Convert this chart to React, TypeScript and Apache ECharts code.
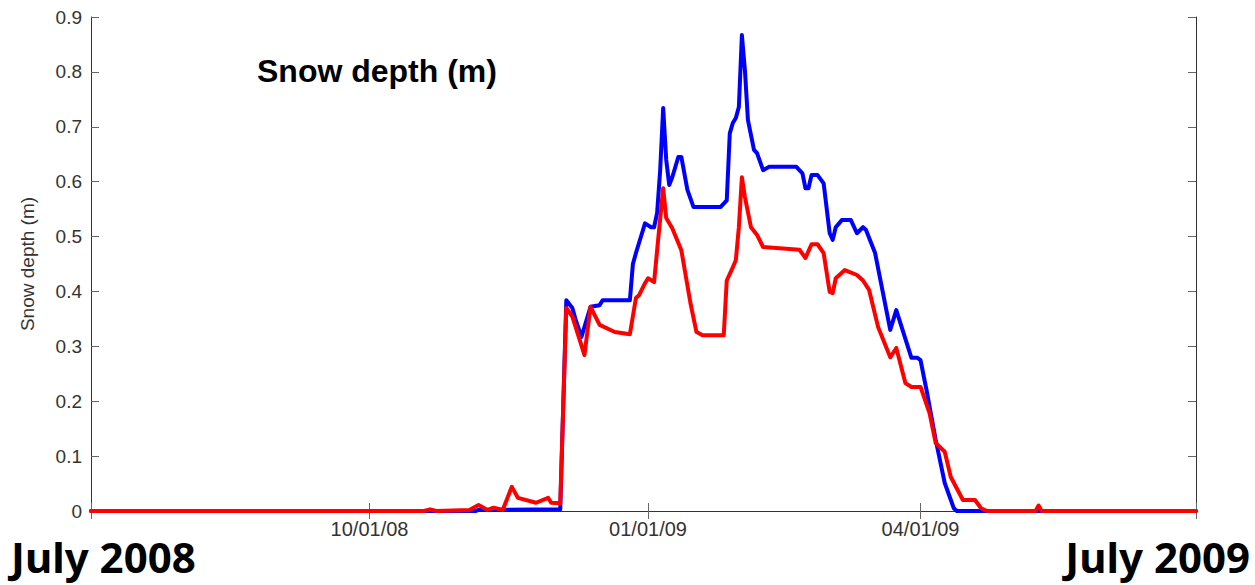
import React, { useEffect, useRef } from "react";
import * as echarts from "echarts";

// Snow depth (m), two series: blue and red
const blueSeries: [string, number][] = [
  ["2008-07-01", 0], ["2008-11-05", 0], ["2008-11-06", 0.002], ["2008-12-03", 0.003],
  ["2008-12-05", 0.384], ["2008-12-07", 0.37], ["2008-12-08", 0.35], ["2008-12-10", 0.317],
  ["2008-12-13", 0.372], ["2008-12-16", 0.375], ["2008-12-17", 0.384], ["2008-12-26", 0.384],
  ["2008-12-27", 0.45], ["2008-12-28", 0.47], ["2008-12-30", 0.506], ["2008-12-31", 0.524],
  ["2009-01-02", 0.517], ["2009-01-03", 0.517], ["2009-01-04", 0.543], ["2009-01-05", 0.62],
  ["2009-01-06", 0.734], ["2009-01-07", 0.64], ["2009-01-08", 0.594], ["2009-01-09", 0.608],
  ["2009-01-11", 0.645], ["2009-01-12", 0.645], ["2009-01-14", 0.585], ["2009-01-16", 0.554],
  ["2009-01-25", 0.554], ["2009-01-27", 0.566], ["2009-01-28", 0.688], ["2009-01-29", 0.707],
  ["2009-01-30", 0.716], ["2009-01-31", 0.736], ["2009-02-01", 0.867], ["2009-02-02", 0.803],
  ["2009-02-03", 0.712], ["2009-02-05", 0.658], ["2009-02-06", 0.652], ["2009-02-08", 0.621],
  ["2009-02-10", 0.627], ["2009-02-19", 0.627], ["2009-02-21", 0.615], ["2009-02-22", 0.588],
  ["2009-02-23", 0.588], ["2009-02-24", 0.612], ["2009-02-26", 0.612], ["2009-02-28", 0.597],
  ["2009-03-02", 0.506], ["2009-03-03", 0.494], ["2009-03-04", 0.517], ["2009-03-06", 0.53],
  ["2009-03-09", 0.53], ["2009-03-11", 0.506], ["2009-03-13", 0.517], ["2009-03-14", 0.512],
  ["2009-03-17", 0.47], ["2009-03-22", 0.33], ["2009-03-24", 0.366], ["2009-03-29", 0.279],
  ["2009-03-31", 0.279], ["2009-04-01", 0.275], ["2009-04-03", 0.22], ["2009-04-06", 0.13],
  ["2009-04-09", 0.051], ["2009-04-12", 0.005], ["2009-04-13", 0], ["2009-07-01", 0],
];

const redSeries: [string, number][] = [
  ["2008-07-01", 0], ["2008-10-19", 0], ["2008-10-21", 0.003], ["2008-10-23", 0],
  ["2008-11-03", 0.002], ["2008-11-06", 0.011], ["2008-11-09", 0.002], ["2008-11-11", 0.006],
  ["2008-11-14", 0.002], ["2008-11-17", 0.044], ["2008-11-19", 0.024], ["2008-11-25", 0.015],
  ["2008-11-29", 0.024], ["2008-11-30", 0.015], ["2008-12-03", 0.014], ["2008-12-05", 0.37],
  ["2008-12-07", 0.354], ["2008-12-11", 0.284], ["2008-12-13", 0.372], ["2008-12-16", 0.339],
  ["2008-12-21", 0.326], ["2008-12-26", 0.322], ["2008-12-28", 0.388], ["2008-12-29", 0.393],
  ["2008-12-31", 0.415], ["2009-01-01", 0.424], ["2009-01-03", 0.417], ["2009-01-04", 0.475],
  ["2009-01-06", 0.588], ["2009-01-07", 0.534], ["2009-01-09", 0.515], ["2009-01-12", 0.475],
  ["2009-01-15", 0.379], ["2009-01-17", 0.326], ["2009-01-19", 0.32], ["2009-01-26", 0.32],
  ["2009-01-27", 0.42], ["2009-01-29", 0.444], ["2009-01-30", 0.457], ["2009-01-31", 0.517],
  ["2009-02-01", 0.608], ["2009-02-02", 0.572], ["2009-02-04", 0.517], ["2009-02-06", 0.503],
  ["2009-02-08", 0.481], ["2009-02-20", 0.476], ["2009-02-22", 0.461], ["2009-02-24", 0.486],
  ["2009-02-26", 0.486], ["2009-02-28", 0.47], ["2009-03-02", 0.399], ["2009-03-03", 0.397],
  ["2009-03-04", 0.424], ["2009-03-07", 0.439], ["2009-03-11", 0.43], ["2009-03-13", 0.42],
  ["2009-03-15", 0.403], ["2009-03-18", 0.335], ["2009-03-22", 0.28], ["2009-03-24", 0.297],
  ["2009-03-27", 0.233], ["2009-03-29", 0.226], ["2009-04-01", 0.226], ["2009-04-04", 0.178],
  ["2009-04-06", 0.124], ["2009-04-09", 0.108], ["2009-04-11", 0.062], ["2009-04-15", 0.02],
  ["2009-04-19", 0.02], ["2009-04-21", 0.005], ["2009-04-23", 0], ["2009-05-09", 0],
  ["2009-05-10", 0.01], ["2009-05-11", 0], ["2009-07-01", 0],
];

const xRange: [string, string] = ["2008-07-01", "2009-07-01"];
const xTickDates = ["2008-07-01", "2008-10-01", "2009-01-01", "2009-04-01", "2009-07-01"];
const xLabelDates = ["2008-10-01", "2009-01-01", "2009-04-01"];
const yMin = 0;
const yMax = 0.9;
const yStep = 0.1;

const titleText = "Snow depth (m)";
const yAxisName = "Snow depth (m)";
const leftCaption = "July 2008";
const rightCaption = "July 2009";

function toTs(s: string): number {
  const [y, m, d] = s.split("-").map(Number);
  return new Date(y, m - 1, d).getTime();
}

function fmtDate(v: number): string {
  const dt = new Date(v);
  const mm = String(dt.getMonth() + 1).padStart(2, "0");
  const dd = String(dt.getDate()).padStart(2, "0");
  const yy = String(dt.getFullYear() % 100).padStart(2, "0");
  return `${mm}/${dd}/${yy}`;
}

export default function App() {
  const ref = useRef<HTMLDivElement>(null);
  useEffect(() => {
    document.body.style.margin = "0";
    if (!ref.current) return;
    const chart = echarts.init(ref.current, undefined, { renderer: "svg" });
    const ticks = xTickDates.map(toTs);
    const labels = xLabelDates.map(toTs);
    const frame = { show: true, lineStyle: { color: "#333", width: 1 } };
    const font = "Liberation Sans";
    const xBase = {
      type: "value" as const,
      min: toTs(xRange[0]),
      max: toTs(xRange[1]),
      axisLine: frame,
      splitLine: { show: false },
      axisTick: { show: true, inside: true, length: 8, customValues: ticks, lineStyle: { color: "#666" } },
    };
    const yBase = {
      type: "value" as const,
      min: yMin,
      max: yMax,
      interval: yStep,
      axisLine: frame,
      splitLine: { show: false },
      axisTick: { show: true, inside: true, length: 8, lineStyle: { color: "#666" } },
    };
    chart.setOption({
      animation: false,
      backgroundColor: "#fff",
      grid: { left: 91, right: 59, top: 17, bottom: 74, containLabel: false },
      xAxis: [
        {
          ...xBase,
          position: "bottom",
          axisLabel: {
            customValues: labels,
            formatter: (v: number) => fmtDate(v),
            fontFamily: font,
            fontSize: 20,
            color: "#333",
            margin: 8,
          },
        },
        { ...xBase, position: "top", axisLabel: { show: false } },
      ],
      yAxis: [
        {
          ...yBase,
          position: "left",
          name: yAxisName,
          nameLocation: "middle",
          nameRotate: 90,
          nameGap: 54,
          nameTextStyle: { fontFamily: font, fontSize: 19, color: "#333" },
          axisLabel: {
            fontFamily: font,
            fontSize: 19,
            color: "#333",
            margin: 9,
            formatter: (v: number) => (v === 0 ? "0" : v.toFixed(1)),
          },
        },
        { ...yBase, position: "right", axisLabel: { show: false } },
      ],
      series: [
        {
          type: "line",
          data: blueSeries.map(([d, v]) => [toTs(d), v]),
          showSymbol: false,
          lineStyle: { color: "#0000ff", width: 4, join: "round", cap: "round" },
          itemStyle: { color: "#0000ff" },
          z: 2,
        },
        {
          type: "line",
          data: redSeries.map(([d, v]) => [toTs(d), v]),
          showSymbol: false,
          lineStyle: { color: "#ff0000", width: 4, join: "round", cap: "round" },
          itemStyle: { color: "#ff0000" },
          z: 3,
        },
      ],
      graphic: [
        {
          type: "text",
          z: 101,
          left: 257,
          top: 55,
          style: { text: titleText, font: `bold 32px "${font}"`, fill: "#000" },
        },
        {
          type: "text",
          z: 101,
          left: 11,
          top: 535,
          style: { text: leftCaption, font: `bold 42px "Noto Sans"`, fill: "#000" },
        },
        {
          type: "text",
          z: 101,
          right: 5,
          top: 535,
          style: { text: rightCaption, font: `bold 42px "Noto Sans"`, fill: "#000" },
        },
      ],
    });
    return () => chart.dispose();
  }, []);
  return <div ref={ref} style={{ width: 1255, height: 585 }} />;
}
